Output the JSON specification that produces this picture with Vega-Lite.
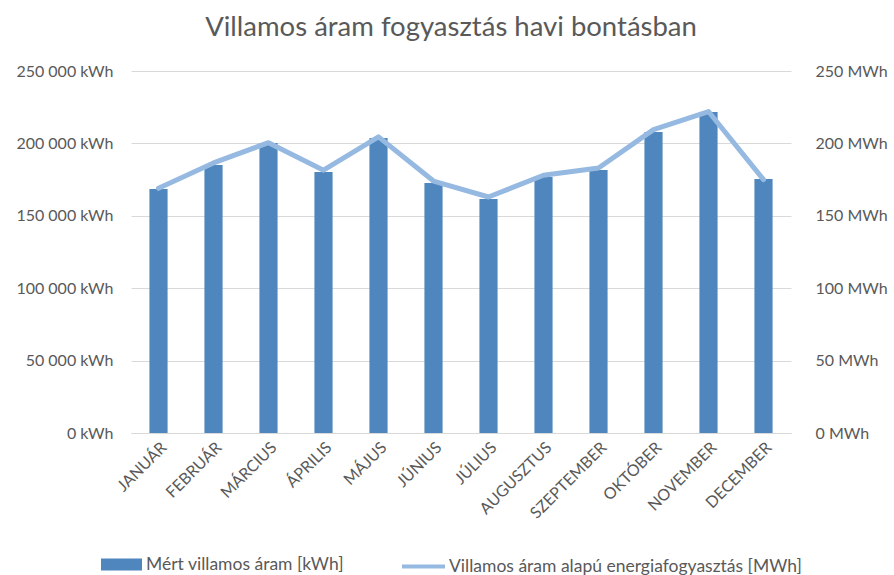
{
  "$schema": "https://vega.github.io/schema/vega-lite/v6.json",
  "autosize": {"type": "none"},
  "width": 660,
  "height": 362,
  "padding": {"left": 131, "top": 71, "right": 103, "bottom": 142},
  "background": "white",
  "config": {
    "font": "Lato",
    "view": {"stroke": null},
    "axis": {"labelColor": "#595959", "labelFont": "Lato", "labelFontSize": 16, "ticks": false, "domain": false, "titleColor": "#595959", "labelOverlap": false, "labelFlush": false},
    "legend": {"labelColor": "#595959", "labelFont": "Lato", "labelFontSize": 17.5, "labelLimit": 0}
  },
  "title": {"text": "Villamos áram fogyasztás havi bontásban", "fontSize": 27.5, "fontWeight": "normal", "color": "#595959", "font": "Lato", "offset": 22, "anchor": "middle", "dx": -10},
  "data": {"values": [
    {"honap": "JANUÁR", "kwh": 168500, "mwh": 169.0},
    {"honap": "FEBRUÁR", "kwh": 185000, "mwh": 186.5},
    {"honap": "MÁRCIUS", "kwh": 200300, "mwh": 200.5},
    {"honap": "ÁPRILIS", "kwh": 180300, "mwh": 181.5},
    {"honap": "MÁJUS", "kwh": 203700, "mwh": 204.5},
    {"honap": "JÚNIUS", "kwh": 172700, "mwh": 174.0},
    {"honap": "JÚLIUS", "kwh": 161600, "mwh": 163.0},
    {"honap": "AUGUSZTUS", "kwh": 176800, "mwh": 178.0},
    {"honap": "SZEPTEMBER", "kwh": 181600, "mwh": 183.0},
    {"honap": "OKTÓBER", "kwh": 207900, "mwh": 209.5},
    {"honap": "NOVEMBER", "kwh": 221700, "mwh": 222.0},
    {"honap": "DECEMBER", "kwh": 175400, "mwh": 175.0}
  ]},
  "encoding": {
    "x": {"field": "honap", "type": "nominal", "sort": null,
      "scale": {"paddingInner": 0.67, "paddingOuter": 0.335},
      "axis": {"title": null, "labelAngle": -45, "labelFontSize": 16, "labelPadding": 6, "domain": true, "domainColor": "#D9D9D9", "grid": false}}
  },
  "layer": [
    {
      "mark": {"type": "bar", "color": "#4E86BD"},
      "encoding": {
        "y": {"field": "kwh", "type": "quantitative", "scale": {"domain": [0, 250000]},
          "axis": {"title": null, "values": [0, 50000, 100000, 150000, 200000, 250000], "labelExpr": "replace(format(datum.value, ','), ',', ' ') + ' kWh'", "labelPadding": 18, "grid": true, "gridColor": "#D9D9D9", "orient": "left"}},
        "fill": {"datum": "Mért villamos áram [kWh]", "type": "nominal",
          "scale": {"range": ["#4E86BD"]},
          "legend": {"title": null, "orient": "none", "legendX": -30, "legendY": 473, "symbolType": "M-1,-0.29H1V0.29H-1Z", "symbolSize": 1681, "symbolStrokeWidth": 0, "labelOffset": 4}}
      }
    },
    {
      "mark": {"type": "line", "color": "#96B9E1", "strokeWidth": 5, "strokeJoin": "round", "strokeCap": "round"},
      "encoding": {
        "y": {"field": "mwh", "type": "quantitative", "scale": {"domain": [0, 250]},
          "axis": {"title": null, "values": [0, 50, 100, 150, 200, 250], "labelExpr": "datum.value + ' MWh'", "labelPadding": 24, "grid": false, "orient": "right"}},
        "stroke": {"datum": "Villamos áram alapú energiafogyasztás [MWh]", "type": "nominal",
          "scale": {"range": ["#96B9E1"]},
          "legend": {"title": null, "orient": "none", "legendX": 269, "legendY": 472, "symbolType": "stroke", "symbolSize": 1849, "symbolStrokeWidth": 4, "labelOffset": 2}}
      }
    }
  ],
  "resolve": {"scale": {"y": "independent"}}
}
